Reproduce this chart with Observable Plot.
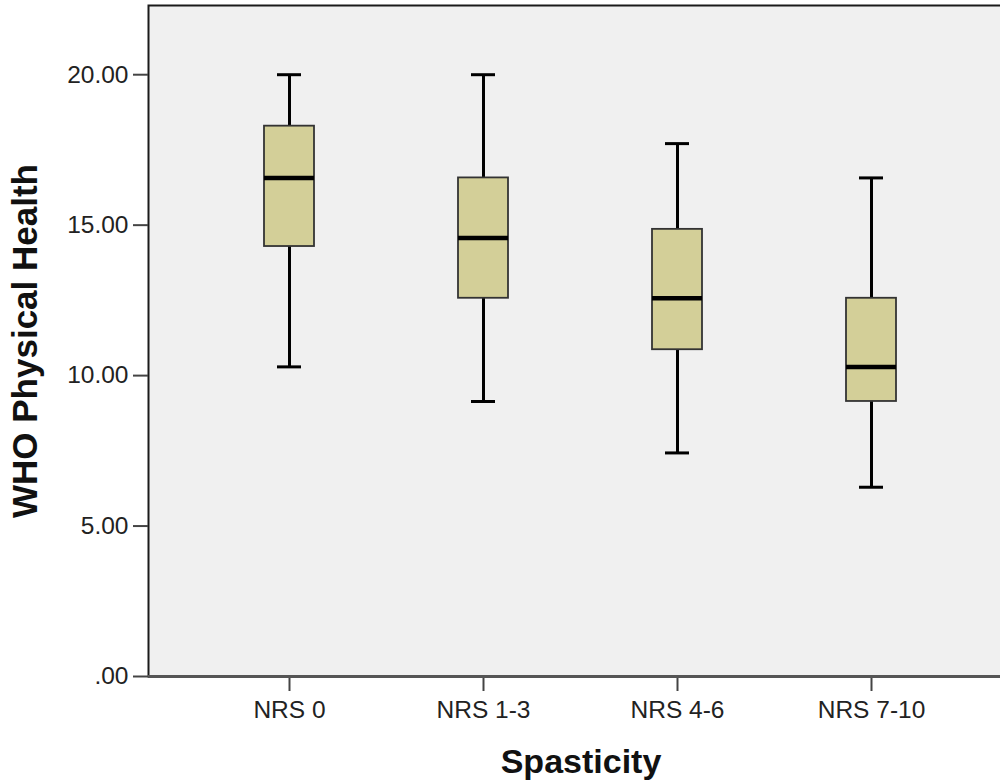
<!DOCTYPE html>
<html><head><meta charset="utf-8">
<script src="https://cdn.jsdelivr.net/npm/d3@7"></script>
<script src="https://cdn.jsdelivr.net/npm/@observablehq/plot@0.6"></script>
<style>body{margin:0;background:#fff} #chart svg{overflow:hidden;display:block}</style>
</head><body><div id="chart"></div>
<script>
const groups = ["NRS 0", "NRS 1-3", "NRS 4-6", "NRS 7-10"];
const whiskerLow = [10.29, 9.14, 7.43, 6.29];
const q1 = [14.29, 12.57, 10.86, 9.14];
const median = [16.57, 14.57, 12.57, 10.29];
const q3 = [18.29, 16.57, 14.86, 12.57];
const whiskerHigh = [20.00, 20.00, 17.71, 16.57];
const yTicks = [0, 5, 10, 15, 20];
const yTitle = "WHO Physical Health";
const xTitle = "Spasticity";

const data = groups.map((g, i) => ({group: g, lo: whiskerLow[i], q1: q1[i], med: median[i], q3: q3[i], hi: whiskerHigh[i]}));

const chart = Plot.plot({
  width: 1000, height: 784,
  marginLeft: 148, marginRight: -13, marginTop: 5, marginBottom: 108,
  style: {fontFamily: "'Liberation Sans', Arial, sans-serif", fontSize: "24.5px", color: "#222", background: "#fff", overflow: "hidden"},
  x: {type: "band", domain: groups, paddingInner: 0.742, paddingOuter: 0.6, label: null},
  y: {domain: [0, 22.3], label: null},
  marks: [
    Plot.frame({fill: "#f0f0f0", stroke: "#1a1a1a", strokeWidth: 2}),
    Plot.axisY({ticks: yTicks, tickSize: 15, tickPadding: 5, tickFormat: d => d === 0 ? ".00" : d.toFixed(2), strokeWidth: 2, stroke: "#444", fill: "#222", label: null}),
    Plot.axisX({tickSize: 15, tickPadding: 9, strokeWidth: 2, stroke: "#444", fill: "#222", label: null}),
    Plot.ruleY([0], {stroke: "#555", strokeWidth: 3}),
    Plot.ruleX(data, {x: "group", y1: "lo", y2: "q1", stroke: "#000", strokeWidth: 3}),
    Plot.ruleX(data, {x: "group", y1: "q3", y2: "hi", stroke: "#000", strokeWidth: 3}),
    Plot.tickY(data, {x: "group", y: "lo", stroke: "#000", strokeWidth: 3, inset: 13}),
    Plot.tickY(data, {x: "group", y: "hi", stroke: "#000", strokeWidth: 3, inset: 13}),
    Plot.barY(data, {x: "group", y1: "q1", y2: "q3", fill: "#d3cf98", stroke: "#333", strokeWidth: 1.8}),
    Plot.tickY(data, {x: "group", y: "med", stroke: "#000", strokeWidth: 4.5}),
    Plot.text([yTitle], {frameAnchor: "left", dx: -112, rotate: -90, textAnchor: "middle", lineAnchor: "bottom", fontWeight: "bold", fontSize: 35, fill: "#111"}),
    Plot.text([xTitle], {frameAnchor: "bottom", dy: 96, textAnchor: "middle", lineAnchor: "bottom", fontWeight: "bold", fontSize: 34, fill: "#111"})
  ]
});
document.getElementById("chart").append(chart);
</script>
</body></html>
